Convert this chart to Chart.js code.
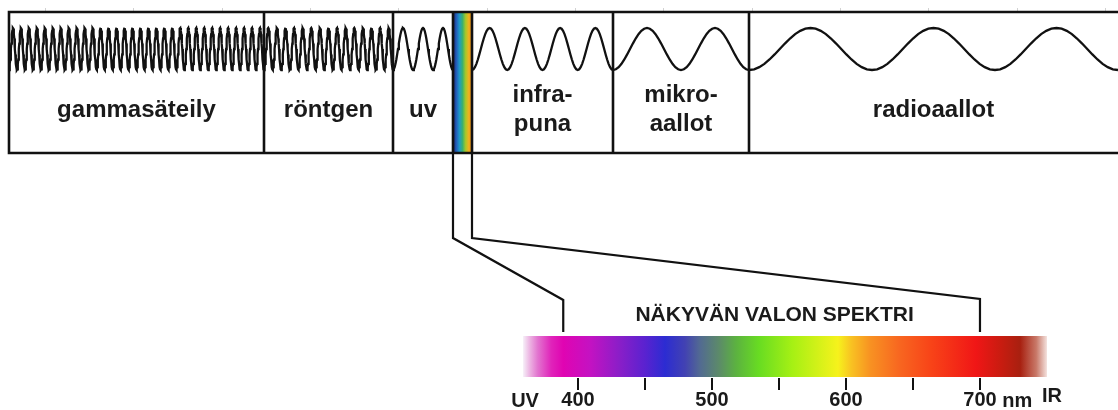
<!DOCTYPE html>
<html>
<head>
<meta charset="utf-8">
<script src="https://cdn.jsdelivr.net/npm/chart.js@4.4.1/dist/chart.umd.min.js"></script>
<style>
  html, body { margin: 0; padding: 0; background: #fff; }
  #spectrum { display: block; }
</style>
</head>
<body>
<canvas id="spectrum" width="1118" height="410"></canvas>
<script>
// Sähkömagneettinen spektri (kaavio, ei mittakaavassa)
const bandNames = [["gammasäteily"], ["röntgen"], ["uv"], [], ["infra-", "puna"], ["mikro-", "aallot"], ["radioaallot"]];
const bandEdges = [9, 264, 393, 453, 472, 613, 749, 1118];   // kaavion yksiköt
const bandCycles = [32, 15, 3, 1, 4, 2, 3];                  // aallon jaksot kaistaa kohti
const rulerTicks = [45, 133, 222, 310, 398, 487, 575, 663, 752, 840, 928, 1017, 1105];

const nmTicks = [400, 450, 500, 550, 600, 650, 700];
const nmUnit = "nm";
const endLabels = ["UV", "IR"];
const visibleRange = [389, 700];   // nm, mihin yhdysviivat osuvat
const spectrumRange = [359, 750];  // nm, värijanan päät
const spectrumTitle = "NÄKYVÄN VALON SPEKTRI";
const spectrumNm = [359, 364, 370, 380, 389, 409, 431, 450, 465, 480, 491, 505, 518, 535, 560, 594, 604, 618, 640, 663, 697, 716, 730, 742, 750];

// tyylit
const spectrumColors = ["#f6f0f8", "#ecb4e2", "#e274cf", "#e024ba", "#e004b2", "#c412c2", "#8a1ec8", "#5a22d0", "#2c2cd2", "#4242b2", "#526a92", "#5c8a6a", "#5cb240", "#68dc22", "#a6f014", "#f6f21c", "#f8c222", "#f89222", "#f86620", "#f84418", "#f01616", "#c81c10", "#a82010", "#c87868", "#f4e2de"];
const stripColors = ["#1b2560", "#2358b8", "#1f98c8", "#3ab070", "#a8c828", "#f0b020", "#e88a1c"];
const FONT = '"Liberation Sans", Arial, sans-serif';
const INK = "#111";
const TEXT = "#1a1a1a";

// asettelu (y-yksiköt = px kaavion yläreunasta)
const BOX_TOP = 0, BOX_BOTTOM = 141;
const WAVE_MID = 37, WAVE_AMP = 21, SAMPLES = 24;
const LABEL_Y = 105, LABEL_Y2 = [90, 119];
const ELBOW_TOP = 226, ELBOW_BOT = [288, 287], DROP_END = 320;
const TITLE_Y = 309, BAR_TOP = 324, BAR_BOTTOM = 365;
const TICK_LABEL_Y = 395, IR_LIFT = 5;
const NM_MIN = -31.34, NM_MAX = 803;

const wave = [];
bandCycles.forEach((n, i) => {
    const x0 = bandEdges[i], x1 = bandEdges[i + 1];
    const steps = n * SAMPLES;
    for (let k = i === 0 ? 0 : 1; k <= steps; k++) {
        wave.push({
            x: x0 + (x1 - x0) * k / steps,
            y: WAVE_MID + WAVE_AMP * Math.cos(2 * Math.PI * k / SAMPLES)
        });
    }
});

const diagram = {
    id: "diagram",
    afterDatasetsDraw(chart) {
        const { ctx, scales: { x, y, nm } } = chart;
        const top = y.getPixelForValue(BOX_TOP);
        const bottom = y.getPixelForValue(BOX_BOTTOM);
        ctx.save();

        // näkyvän valon kaista
        const sx0 = x.getPixelForValue(bandEdges[3]);
        const sx1 = x.getPixelForValue(bandEdges[4]);
        const sg = ctx.createLinearGradient(sx0, 0, sx1, 0);
        stripColors.forEach((c, i) => sg.addColorStop(i / (stripColors.length - 1), c));
        ctx.fillStyle = sg;
        ctx.fillRect(sx0, top, sx1 - sx0, bottom - top);

        // laatikko ja väliviivat
        const left = x.getPixelForValue(bandEdges[0]);
        const right = x.getPixelForValue(bandEdges[bandEdges.length - 1]);
        ctx.strokeStyle = INK;
        ctx.lineWidth = 2.6;
        ctx.beginPath();
        ctx.moveTo(left, top); ctx.lineTo(right + 2, top);
        ctx.moveTo(left, bottom); ctx.lineTo(right + 2, bottom);
        bandEdges.slice(0, -1).forEach(e => {
            const px = x.getPixelForValue(e);
            ctx.moveTo(px, top - 1.3);
            ctx.lineTo(px, bottom + 1.3);
        });
        ctx.stroke();

        // kaistojen nimet
        ctx.fillStyle = TEXT;
        ctx.font = "bold 24px " + FONT;
        ctx.textAlign = "center";
        ctx.textBaseline = "alphabetic";
        bandNames.forEach((lines, i) => {
            const cx = (x.getPixelForValue(bandEdges[i]) + x.getPixelForValue(bandEdges[i + 1])) / 2;
            lines.forEach((t, j) => {
                const ly = lines.length === 1 ? LABEL_Y : LABEL_Y2[j];
                ctx.fillText(t, cx, y.getPixelForValue(ly));
            });
        });

        // yhdysviivat
        ctx.lineWidth = 2.2;
        ctx.lineJoin = "miter";
        [0, 1].forEach(j => {
            const tx = x.getPixelForValue(bandEdges[3 + j]);
            const bx = nm.getPixelForValue(visibleRange[j]);
            ctx.beginPath();
            ctx.moveTo(tx, bottom);
            ctx.lineTo(tx, y.getPixelForValue(ELBOW_TOP));
            ctx.lineTo(bx, y.getPixelForValue(ELBOW_BOT[j]));
            ctx.lineTo(bx, y.getPixelForValue(DROP_END));
            ctx.stroke();
        });

        // värijana
        const b0 = nm.getPixelForValue(spectrumRange[0]);
        const b1 = nm.getPixelForValue(spectrumRange[1]);
        const bg = ctx.createLinearGradient(b0, 0, b1, 0);
        spectrumNm.forEach((v, i) => {
            bg.addColorStop((v - spectrumRange[0]) / (spectrumRange[1] - spectrumRange[0]), spectrumColors[i]);
        });
        const bt = y.getPixelForValue(BAR_TOP);
        ctx.fillStyle = bg;
        ctx.fillRect(b0, bt, b1 - b0, y.getPixelForValue(BAR_BOTTOM) - bt);

        // otsikko
        ctx.fillStyle = TEXT;
        ctx.font = "bold 21px " + FONT;
        ctx.fillText(spectrumTitle, nm.getPixelForValue((visibleRange[0] + visibleRange[1]) / 2) + 3, y.getPixelForValue(TITLE_Y));

        // UV, IR ja yksikkö
        ctx.font = "bold 20px " + FONT;
        const base = y.getPixelForValue(TICK_LABEL_Y);
        ctx.fillText(endLabels[0], b0 + 2, base);
        ctx.textAlign = "left";
        ctx.fillText(endLabels[1], b1 - 5, base - IR_LIFT);
        const last = nmTicks[nmTicks.length - 1];
        const half = ctx.measureText(String(last)).width / 2;
        ctx.fillText(nmUnit, nm.getPixelForValue(last) + half + ctx.measureText(" ").width, base);
        ctx.restore();
    }
};

new Chart(document.getElementById("spectrum"), {
    type: "line",
    data: {
        datasets: [{
            data: wave,
            borderColor: INK,
            borderWidth: 2.3,
            pointRadius: 0,
            tension: 0,
            fill: false
        }]
    },
    options: {
        responsive: false,
        animation: false,
        events: [],
        layout: { padding: 0 },
        plugins: {
            legend: { display: false },
            tooltip: { enabled: false }
        },
        scales: {
            x: {
                type: "linear",
                position: "top",
                min: 0,
                max: 1118,
                afterBuildTicks: s => { s.ticks = rulerTicks.map(v => ({ value: v })); },
                afterFit: s => { s.height = 12; },
                ticks: { display: false },
                grid: { drawOnChartArea: false, tickLength: 4, color: "#d2d2d2", lineWidth: 1 },
                border: { display: false }
            },
            y: {
                type: "linear",
                display: false,
                reverse: true,
                min: 0,
                max: 366
            },
            nm: {
                type: "linear",
                axis: "x",
                position: "bottom",
                min: NM_MIN,
                max: NM_MAX,
                afterBuildTicks: s => { s.ticks = nmTicks.map(v => ({ value: v })); },
                afterFit: s => { s.height = 32; },
                ticks: {
                    padding: -2,
                    color: TEXT,
                    autoSkip: false,
                    maxRotation: 0,
                    font: { family: FONT, size: 20, weight: "bold" },
                    callback: v => v % 100 === 0 ? String(v) : ""
                },
                grid: { drawOnChartArea: false, tickLength: 12, color: INK, lineWidth: 2 },
                border: { display: false }
            }
        }
    },
    plugins: [diagram]
});
</script>
</body>
</html>
